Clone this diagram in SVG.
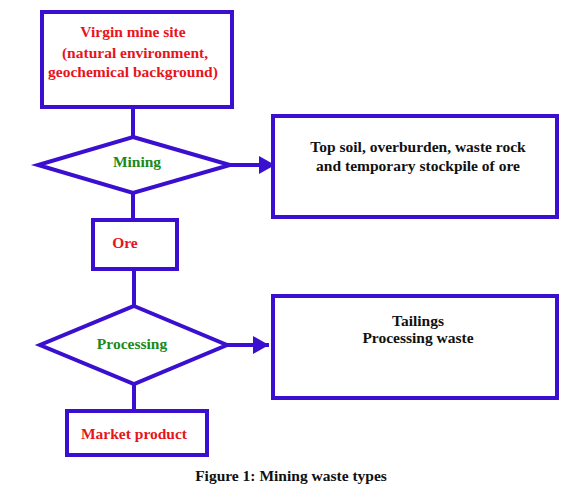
<svg xmlns="http://www.w3.org/2000/svg" width="580" height="494" viewBox="0 0 580 494">
<style>
.s{fill:none;stroke:#3a0fd0;stroke-width:4;stroke-linejoin:miter}
.l{fill:none;stroke:#3a0fd0;stroke-width:4}
text{font-family:"Liberation Serif","Times New Roman",serif;font-weight:bold;font-size:15.5px;text-anchor:middle}
.r{fill:#e8141c}
.g{fill:#1a8a1a}
.k{fill:#111}
</style>
<defs>
<marker id="ah" markerUnits="userSpaceOnUse" markerWidth="16" markerHeight="18" refX="16" refY="9" orient="auto">
<path d="M0,0 L16,9 L0,18 Z" fill="#3a0fd0"/>
</marker>
</defs>
<rect width="580" height="494" fill="#fff"/>
<g id="connectors">
<line class="l" x1="133" y1="107" x2="133" y2="137"/>
<line class="l" x1="133" y1="193" x2="133" y2="220"/>
<line class="l" x1="134" y1="269" x2="134" y2="306"/>
<line class="l" x1="134" y1="384" x2="134" y2="411"/>
<line class="l" x1="230" y1="165" x2="275" y2="165" marker-end="url(#ah)"/>
<line class="l" x1="227" y1="345" x2="269" y2="345" marker-end="url(#ah)"/>
</g>
<g id="virgin">
<rect class="s" x="42" y="12" width="190" height="95"/>
<text class="r" x="133" y="37">Virgin mine site</text>
<text class="r" x="135" y="58">(natural environment,</text>
<text class="r" x="133" y="77">geochemical background)</text>
</g>
<g id="mining">
<polygon class="s" points="133,137 230,165 133,193 38,165"/>
<text class="g" x="137" y="167">Mining</text>
</g>
<g id="waste1">
<rect class="s" x="273" y="116" width="284" height="101"/>
<text class="k" x="418" y="152">Top soil, overburden, waste rock</text>
<text class="k" x="418" y="171">and temporary stockpile of ore</text>
</g>
<g id="ore">
<rect class="s" x="93" y="220" width="84" height="49"/>
<text class="r" x="125" y="248">Ore</text>
</g>
<g id="processing">
<polygon class="s" points="134,306 227,345 134,384 40,345"/>
<text class="g" x="132" y="349">Processing</text>
</g>
<g id="waste2">
<rect class="s" x="273" y="296" width="284" height="102"/>
<text class="k" x="418" y="326">Tailings</text>
<text class="k" x="418" y="343">Processing waste</text>
</g>
<g id="market">
<rect class="s" x="67" y="411" width="140" height="44"/>
<text class="r" x="134" y="439">Market product</text>
</g>
<text class="k" x="291" y="481">Figure 1: Mining waste types</text>
</svg>
